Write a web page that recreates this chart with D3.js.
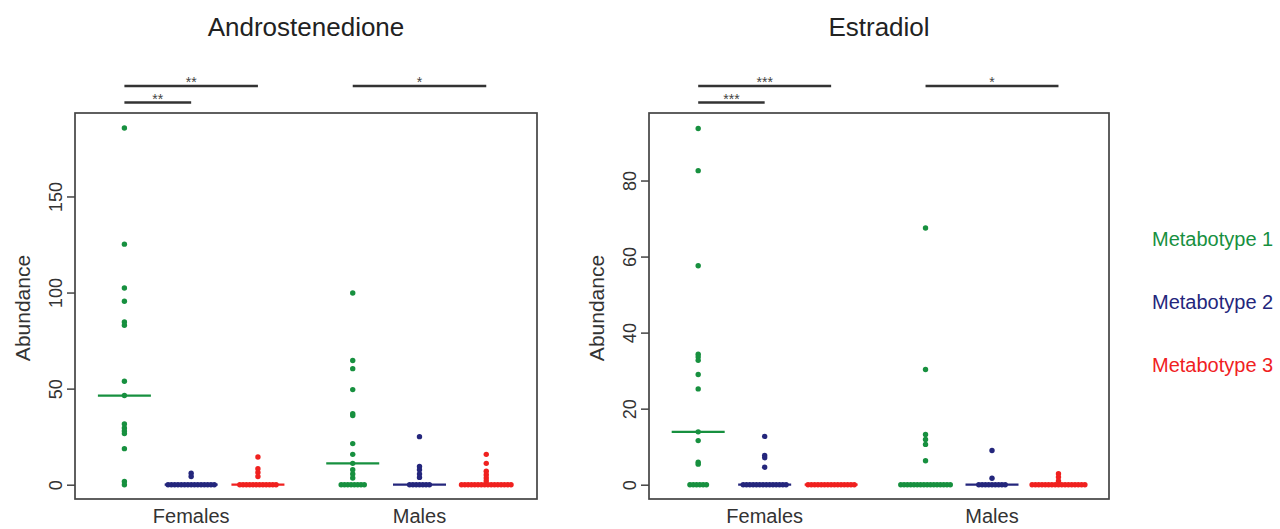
<!DOCTYPE html>
<html><head><meta charset="utf-8">
<script src="https://cdn.jsdelivr.net/npm/d3@7"></script>
<style>
body{margin:0;background:#fff}
svg{display:block}
text{font-family:"Liberation Sans",Arial,Helvetica,sans-serif}
</style>
</head><body>
<svg id="c" width="1280" height="529"></svg>
<script>
// ---------- data ----------
const sexes = ["Females", "Males"];
const metabotypes = ["Metabotype 1", "Metabotype 2", "Metabotype 3"];
const colors = ["#17903f", "#24267c", "#f0211f"];
const panelTitles = ["Androstenedione", "Estradiol"];
const andYTicks = [0, 50, 100, 150];
const estYTicks = [0, 20, 40, 60, 80];
const andYMax = 186;
const estYMax = 94;

// Androstenedione values, per sex: [Metabotype 1, 2, 3]
const andFemales = [
  [185.6, 125.2, 102.4, 95.5, 84.7, 83, 53.8, 46.4, 31.6, 29.5, 28, 26.6, 18.75, 1.7, 0],
  [6, 4.3, 0, 0, 0, 0, 0, 0, 0, 0, 0, 0, 0, 0, 0, 0, 0],
  [14.4, 8.3, 6.4, 4.3, 0, 0, 0, 0, 0, 0, 0, 0, 0, 0, 0, 0]
];
const andMales = [
  [99.8, 64.6, 60.4, 49.5, 37, 36, 21.4, 15.8, 11.1, 7.8, 5.6, 3.5, 0, 0, 0, 0, 0, 0, 0, 0],
  [25, 9.5, 7.8, 5.6, 3.8, 0, 0, 0, 0, 0, 0, 0],
  [15.8, 11.1, 7, 5.2, 3.5, 2, 0, 0, 0, 0, 0, 0, 0, 0, 0, 0, 0, 0, 0, 0, 0, 0]
];
const andMedians = [[46.4, 0, 0], [11.1, 0, 0]];

// Estradiol values
const estFemales = [
  [93.7, 82.6, 57.6, 34.3, 33.6, 32.7, 29, 25.2, 13.9, 11.6, 5.9, 5.4, 0, 0, 0, 0, 0, 0],
  [12.7, 7.7, 7.1, 4.6, 0, 0, 0, 0, 0, 0, 0, 0, 0, 0, 0, 0, 0, 0],
  [0, 0, 0, 0, 0, 0, 0, 0, 0, 0, 0, 0, 0, 0, 0]
];
const estMales = [
  [67.5, 30.3, 13.2, 11.9, 10.6, 6.3, 0, 0, 0, 0, 0, 0, 0, 0, 0, 0, 0, 0, 0, 0, 0, 0],
  [9, 1.7, 0, 0, 0, 0, 0, 0, 0, 0, 0],
  [2.9, 2, 1, 0, 0, 0, 0, 0, 0, 0, 0, 0, 0, 0, 0, 0, 0, 0, 0, 0]
];
const estMedians = [[13.9, 0, 0], [0, 0, 0]];

// significance brackets: [sex, fromMetabotype, toMetabotype, row]
const andSigPairs = [[0, 0, 2, 0], [0, 0, 1, 1], [1, 0, 2, 0]];
const andSigLabels = ["**", "**", "*"];
const estSigPairs = [[0, 0, 2, 0], [0, 0, 1, 1], [1, 0, 2, 0]];
const estSigLabels = ["***", "***", "*"];

// ---------- drawing ----------
const svg = d3.select("#c");
const FONT = '"Liberation Sans",Arial,sans-serif';
const groupPos = [[1, 2, 3], [4.42, 5.42, 6.42]];
const sexCenter = [2, 5.42];

const panels = [
  {title: panelTitles[0], left: 75, right: 537, data: [andFemales, andMales], med: andMedians,
   ymax: andYMax, ticks: andYTicks, sig: andSigPairs, sigLab: andSigLabels},
  {title: panelTitles[1], left: 649, right: 1109, data: [estFemales, estMales], med: estMedians,
   ymax: estYMax, ticks: estYTicks, sig: estSigPairs, sigLab: estSigLabels}
];
const plotTop = 113, plotBottom = 499;

panels.forEach(p => {
  const g = svg.append("g");
  const x = d3.scaleLinear().domain([0.26, 7.18]).range([p.left, p.right]);
  const pad = p.ymax * 0.04;
  const y = d3.scaleLinear().domain([-pad, p.ymax + pad]).range([plotBottom, plotTop]);

  // title
  g.append("text").attr("x", (p.left + p.right) / 2).attr("y", 35.5)
    .attr("text-anchor", "middle").attr("font-size", 26).attr("fill", "#222").text(p.title);

  // box
  g.append("rect").attr("x", p.left).attr("y", plotTop).attr("width", p.right - p.left)
    .attr("height", plotBottom - plotTop).attr("fill", "none").attr("stroke", "#444").attr("stroke-width", 1.7);

  // y axis
  const yAxis = g.append("g").attr("transform", `translate(${p.left},0)`)
    .call(d3.axisLeft(y).tickValues(p.ticks).tickSize(8).tickPadding(0).tickFormat(d3.format("d")));
  yAxis.select(".domain").remove();
  yAxis.selectAll(".tick line").attr("stroke", "#444").attr("stroke-width", 1.5);
  yAxis.selectAll(".tick text")
    .attr("x", 0).attr("dy", null).attr("text-anchor", "middle")
    .attr("transform", "translate(-13,0) rotate(-90)")
    .attr("font-size", 18).attr("font-family", FONT).attr("fill", "#333");

  // y label
  g.append("text").attr("transform", `translate(${p.left - 45},308) rotate(-90)`)
    .attr("text-anchor", "middle").attr("font-size", 21).attr("fill", "#333").text("Abundance");

  // x labels
  sexes.forEach((s, si) => {
    g.append("text").attr("x", x(sexCenter[si])).attr("y", 523)
      .attr("text-anchor", "middle").attr("font-size", 20).attr("fill", "#333").text(s);
  });

  // points (stacked when equal) and medians
  const spacing = 3.3;
  p.data.forEach((sexData, si) => {
    sexData.forEach((vals, mi) => {
      const cx = x(groupPos[si][mi]);
      const counts = d3.rollup(vals, v => v.length, d => d);
      const seen = new Map();
      const pts = vals.map(v => {
        const n = counts.get(v);
        const k = seen.get(v) || 0;
        seen.set(v, k + 1);
        return {v, off: (k - (n - 1) / 2) * spacing};
      });
      g.append("line")
        .attr("x1", cx - 26.5).attr("x2", cx + 26.5)
        .attr("y1", y(p.med[si][mi])).attr("y2", y(p.med[si][mi]))
        .attr("stroke", colors[mi]).attr("stroke-width", 2.2);
      g.selectAll(null).data(pts).enter().append("circle")
        .attr("cx", d => cx + d.off).attr("cy", d => y(d.v)).attr("r", 2.7)
        .attr("fill", colors[mi]);
    });
  });

  // significance brackets
  const rowY = [86, 102.5];
  p.sig.forEach((s, i) => {
    const [si, a, b, row] = s;
    const x1 = x(groupPos[si][a]), x2 = x(groupPos[si][b]);
    g.append("line").attr("x1", x1).attr("x2", x2).attr("y1", rowY[row]).attr("y2", rowY[row])
      .attr("stroke", "#333").attr("stroke-width", 2.5);
    g.append("text").attr("x", (x1 + x2) / 2).attr("y", rowY[row] + 1)
      .attr("text-anchor", "middle").attr("font-size", 14).attr("fill", "#444").text(p.sigLab[i]);
  });
});

// legend
const legendY = [246, 308.5, 372];
metabotypes.forEach((m, i) => {
  svg.append("text").attr("x", 1152).attr("y", legendY[i]).attr("font-size", 20)
    .attr("fill", colors[i]).text(m);
});
</script>
</body></html>
